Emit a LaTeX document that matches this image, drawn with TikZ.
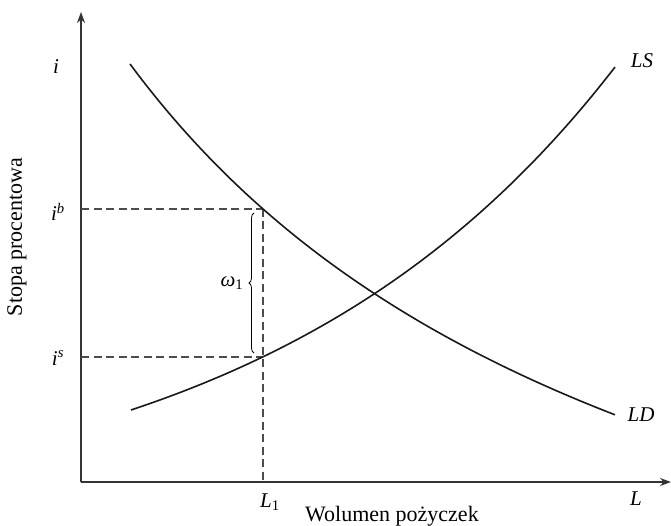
\documentclass[tikz,border=0pt]{standalone}
\usepackage{fontspec}
\setmainfont{Liberation Serif}
\usetikzlibrary{arrows.meta,decorations.pathreplacing}
\begin{document}
\begin{tikzpicture}[x=1pt,y=-1pt,
  axis/.style={draw=black!80,line width=1.3pt,-{Stealth[length=11pt,width=8pt]}},
  guide/.style={draw=black!70,line width=1.1pt,dash pattern=on 8pt off 4.5pt},
  curve/.style={draw=black!90,line width=1.6pt},
  lbl/.style={font=\fontsize{21}{24}\selectfont\itshape,inner sep=0pt},
  title/.style={font=\fontsize{22}{26}\selectfont,inner sep=0pt}]
\useasboundingbox (0,0) rectangle (671,526);
% axes
\coordinate (O) at (81,482);
\coordinate (ytip) at (81,12);
\coordinate (xtip) at (671,482);
\draw[axis] (O) -- (ytip);
\draw[axis] (O) -- (xtip);
% key points
\coordinate (B) at (263,209);
\coordinate (S) at (263,357);
\coordinate (Bax) at (81,209);
\coordinate (Sax) at (81,357);
\coordinate (Lax) at (263,482);
\draw[guide] (Bax) -- (B);
\draw[guide] (Sax) -- (S);
\draw[guide] (B) -- (Lax);
% curves
\draw[curve] plot[domain=130:615,samples=80] ({\x},{64 + 756.6*((\x-130)/(\x+431))});
\draw[curve] plot[domain=131:615,samples=80] ({\x},{410 - 118.6*(exp(0.0028*(\x-131))-1)});
% brace
\coordinate (br1) at (254,353);
\coordinate (br2) at (254,213);
\draw[line width=0.8pt,decorate,decoration={brace,amplitude=5pt}] (br1) -- (br2);
% labels
\node[lbl] (li) at (56,67) {i};
\node[lbl] (lib) at (58,212) {i\textsuperscript{b}};
\node[lbl] (lis) at (58,358) {i\textsuperscript{s}};
\node[lbl] (lw) at (232,283) {ω\textsubscript{\upshape 1}};
\node[lbl] (lL1) at (270,502) {L\textsubscript{\upshape 1}};
\node[lbl] (lL) at (636,499) {L};
\node[lbl] (lLS) at (642,61) {LS};
\node[lbl] (lLD) at (641,415) {LD};
\node[title,rotate=90] (ty) at (17,237) {Stopa procentowa};
\node[title,anchor=base west] (tx) at (305,521) {Wolumen pożyczek};
\end{tikzpicture}
\end{document}
